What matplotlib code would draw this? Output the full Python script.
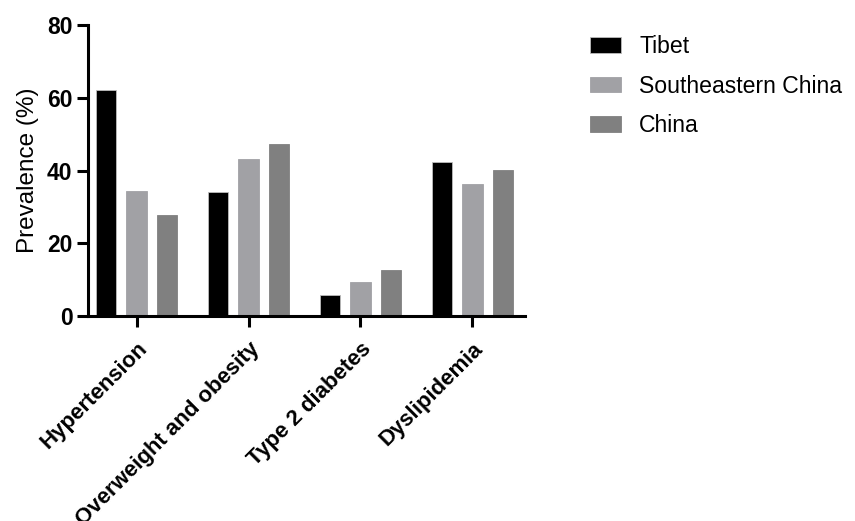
import matplotlib
matplotlib.use("Agg")
import matplotlib.pyplot as plt
import numpy as np

categories = ["Hypertension", "Overweight and obesity", "Type 2 diabetes", "Dyslipidemia"]
series_names = ["Tibet", "Southeastern China", "China"]
tibet = [62.2, 34.1, 5.9, 42.4]
southeastern = [34.5, 43.1, 9.3, 36.3]
china = [27.8, 47.4, 12.6, 40.1]
colors = ["#000000", "#A1A1A5", "#808080"]
yticks = [0, 20, 40, 60, 80]

plt.rcParams['font.family'] = ['Liberation Sans', 'DejaVu Sans']

fig = plt.figure(figsize=(8.55, 5.21), dpi=100)
ax = fig.add_axes([87.7/855, 1-316/521, (525-87.7)/855, (316-25)/521])

x = np.arange(len(categories))
pitch = 0.272
width = 0.183
handles = []
for i, (vals, name, c) in enumerate(zip([tibet, southeastern, china], series_names, colors)):
    b = ax.bar(x + (i-1)*pitch, vals, width=width, color=c, label=name,
               edgecolor='#bdbdbd' if i == 0 else c, linewidth=0.6)
    handles.append(b)

ax.set_xlim(-0.4375, 3.47)
ax.set_ylim(0, 80)
ax.set_yticks(yticks)
ax.set_xticks(x)
ax.set_xticklabels(categories, rotation=45, ha='right', rotation_mode='anchor',
                   fontsize=16, fontweight='bold')
for lab in ax.get_yticklabels():
    lab.set_fontsize(16.5)
    lab.set_fontweight('bold')
ax.set_ylabel("Prevalence (%)", fontsize=17.5)
ax.yaxis.set_label_coords(-0.112, 0.5)

for s in ['top', 'right']:
    ax.spines[s].set_visible(False)
for s in ['left', 'bottom']:
    ax.spines[s].set_linewidth(2.2)
ax.tick_params(axis='both', width=2.2, length=8, color='black')
ax.tick_params(axis='x', pad=8)
ax.tick_params(axis='y', pad=3)

leg = fig.legend(handles=handles, labels=series_names, loc='upper left',
                 bbox_to_anchor=(590/855, 1-35/521), frameon=False,
                 fontsize=16.6, handlelength=1.35, handleheight=0.65,
                 handletextpad=0.78, labelspacing=0.72, borderpad=0, borderaxespad=0)

fig.savefig("out.png", dpi=100)
